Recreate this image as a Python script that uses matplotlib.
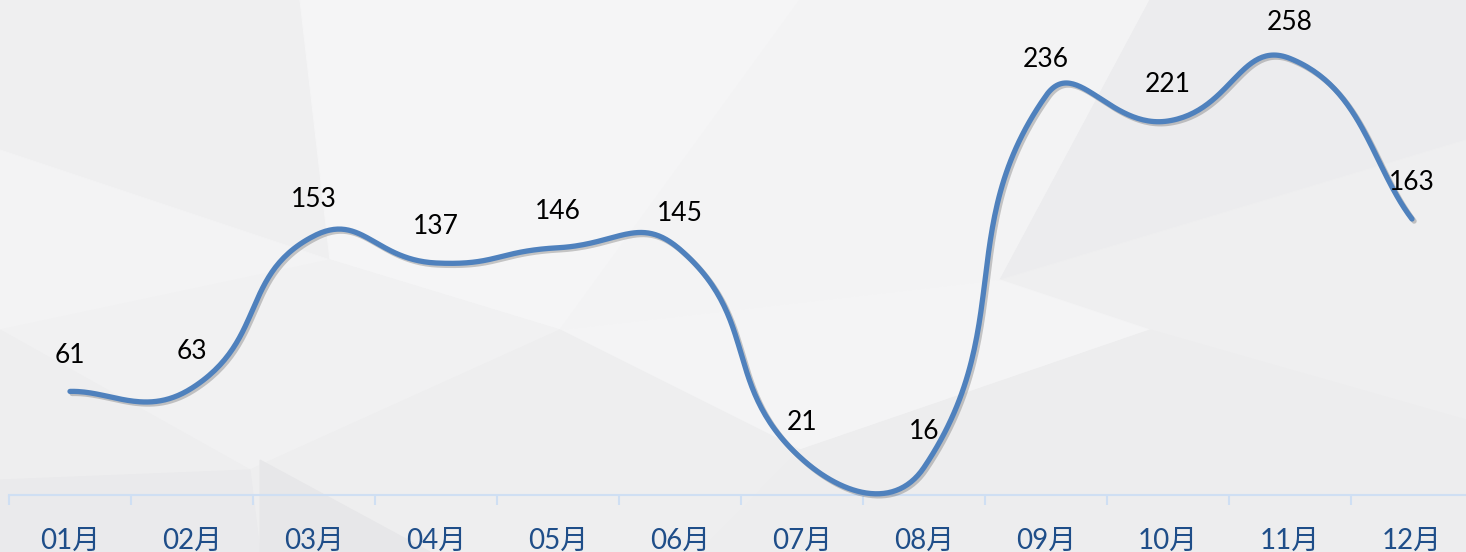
import numpy as np
import matplotlib
matplotlib.use("Agg")
import matplotlib.pyplot as plt
from matplotlib.patches import Polygon
import matplotlib.patheffects as pe

months = ["01月", "02月", "03月", "04月", "05月", "06月",
          "07月", "08月", "09月", "10月", "11月", "12月"]
values = [61, 63, 153, 137, 146, 145, 21, 16, 236, 221, 258, 163]

plt.rcParams['font.family'] = ['Lato', 'Noto Sans CJK SC', 'DejaVu Sans']

W, H = 1466, 552
fig = plt.figure(figsize=(W / 100, H / 100), dpi=100)
fig.patch.set_facecolor('#f1f1f2')

# low-poly background (figure pixel coords, y from top)
bg = [
    ([(0, 0), (560, 0), (330, 260), (0, 150)], '#efeff0'),
    ([(300, 0), (800, 0), (560, 330), (330, 260)], '#f5f5f6'),
    ([(800, 0), (1150, 0), (1000, 280), (560, 330)], '#f3f3f4'),
    ([(1150, 0), (1466, 0), (1466, 140), (1000, 280)], '#ececee'),
    ([(1466, 140), (1466, 420), (1150, 330), (1000, 280)], '#efeff0'),
    ([(0, 150), (330, 260), (0, 330)], '#f3f3f4'),
    ([(0, 330), (330, 260), (560, 330), (250, 470)], '#f1f1f2'),
    ([(560, 330), (1000, 280), (1150, 330), (800, 450)], '#f4f4f5'),
    ([(0, 330), (250, 470), (0, 480)], '#eeeeef'),
    ([(250, 470), (560, 330), (800, 450), (700, 552), (260, 552)], '#eeeeef'),
    ([(800, 450), (1150, 330), (1466, 420), (1466, 552), (700, 552)], '#ededee'),
    ([(0, 480), (250, 470), (260, 552), (0, 552)], '#eaeaec'),
    ([(260, 460), (430, 552), (260, 552)], '#e7e7e9'),
]
for pts, c in bg:
    p = Polygon([(x / W, 1 - y / H) for x, y in pts], closed=True,
                transform=fig.transFigure, facecolor=c, edgecolor=c, lw=0.8,
                zorder=-5)
    fig.patches.append(p)

ax = fig.add_axes([9 / W, (H - 494.5) / H, 1464 / W, 494.5 / H])
ax.set_facecolor('none')
ax.set_zorder(1)
ax.set_xlim(-0.5, 11.5)
ax.set_ylim(0, 292.6)

x = np.arange(len(values))
y = np.array(values, dtype=float)

# Excel-like smoothed line: cubic Bezier, control points scaled by segment lengths
P = ax.transData.transform(np.column_stack([x, y]))
n = len(P)
f = 0.5
t = np.linspace(0, 1, 60)[:, None]
pts = [P[:1]]
for i in range(n - 1):
    p0 = P[i - 1] if i > 0 else P[i]
    p1, p2 = P[i], P[i + 1]
    p3 = P[i + 2] if i + 2 < n else P[i + 1]
    d01 = np.hypot(*(p1 - p0))
    d12 = np.hypot(*(p2 - p1))
    d23 = np.hypot(*(p3 - p2))
    c1 = p1 + (p2 - p0) * f * d12 / (d01 + d12) if d01 > 0 else p1 + (p2 - p1) / 3
    c2 = p2 - (p3 - p1) * f * d12 / (d12 + d23) if d23 > 0 else p2 - (p2 - p1) / 3
    seg = ((1 - t) ** 3) * p1 + 3 * ((1 - t) ** 2) * t * c1 + 3 * (1 - t) * t ** 2 * c2 + t ** 3 * p2
    pts.append(seg[1:])
curve = ax.transData.inverted().transform(np.vstack(pts))
ax.plot(curve[:, 0], curve[:, 1], color='#4f81bd', lw=3.8, solid_capstyle='round',
        solid_joinstyle='round', zorder=3, clip_on=False,
        path_effects=[pe.SimpleLineShadow(offset=(1.5, -1.5), alpha=0.2), pe.Normal()])

for xi, v in zip(x, values):
    ax.annotate(str(v), (xi, v), xytext=(0, 26), textcoords='offset points',
                ha='center', va='center', fontsize=19, color='black', zorder=4)

for s in ['top', 'left', 'right']:
    ax.spines[s].set_visible(False)
ax.spines['bottom'].set_color('#cfdff3')
ax.spines['bottom'].set_linewidth(1.5)
ax.set_yticks([])
ax.set_xticks(x)
ax.set_xticklabels(months, fontsize=20, color='#1f4e89')
ax.tick_params(axis='x', which='major', length=0, pad=24)
ax.set_xticks(np.arange(-0.5, 12, 1), minor=True)
ax.tick_params(axis='x', which='minor', length=7, width=1.5, color='#cfdff3')

fig.savefig('out.png', dpi=100, facecolor=fig.get_facecolor())
